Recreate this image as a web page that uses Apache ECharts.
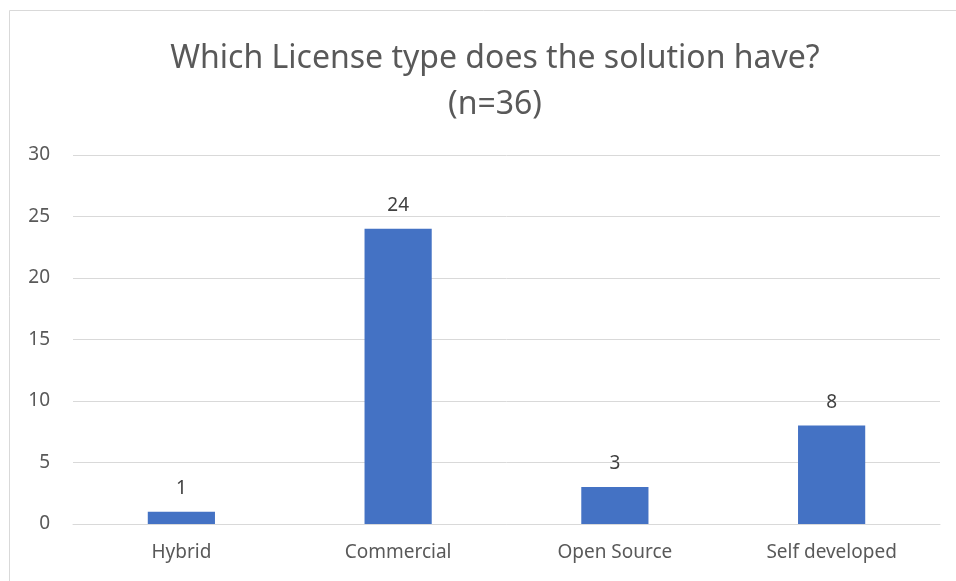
<!DOCTYPE html>
<html>
<head>
<meta charset="UTF-8">
<title>License type</title>
<script src="https://cdn.jsdelivr.net/npm/echarts@6/dist/echarts.min.js"></script>
<style>
  html, body { margin: 0; padding: 0; background: #fff; }
  #chart { width: 956px; height: 581px; }
</style>
</head>
<body>
<div id="chart"></div>
<script>
// chart data
var categories = ['Hybrid', 'Commercial', 'Open Source', 'Self developed'];
var counts = [1, 24, 3, 8];
var yTicks = { min: 0, max: 30, interval: 5 };

var chart = echarts.init(document.getElementById('chart'));
var font = 'Noto Sans';
var grey = '#595959';

chart.setOption({
  animation: false,
  title: {
    text: 'Which License type does the solution have?\n(n=36)',
    left: 490,
    top: 31,
    textAlign: 'center',
    textStyle: {
      fontFamily: font,
      fontSize: 32,
      fontWeight: 'normal',
      color: grey,
      lineHeight: 46
    }
  },
  graphic: [{
    type: 'rect',
    shape: { x: 9.5, y: 10.5, width: 980, height: 600 },
    style: { fill: 'none', stroke: '#d9d9d9', lineWidth: 1 },
    silent: true
  }],
  grid: { left: 73, right: 16, top: 155, bottom: 57 },
  xAxis: {
    type: 'category',
    data: categories,
    axisTick: { show: false },
    axisLine: { lineStyle: { color: '#d9d9d9' } },
    axisLabel: { color: grey, fontFamily: font, fontSize: 19, margin: 19 }
  },
  yAxis: {
    type: 'value',
    min: yTicks.min,
    max: yTicks.max,
    interval: yTicks.interval,
    axisLine: { show: false },
    axisTick: { show: false },
    splitLine: { lineStyle: { color: '#d9d9d9' } },
    axisLabel: { color: grey, fontFamily: font, fontSize: 19, margin: 23 }
  },
  series: [{
    type: 'bar',
    data: counts,
    barWidth: '31%',
    itemStyle: { color: '#4472C4' },
    label: {
      show: true,
      position: 'top',
      distance: 14,
      color: '#404040',
      fontFamily: font,
      fontSize: 19
    }
  }]
});
</script>
</body>
</html>
